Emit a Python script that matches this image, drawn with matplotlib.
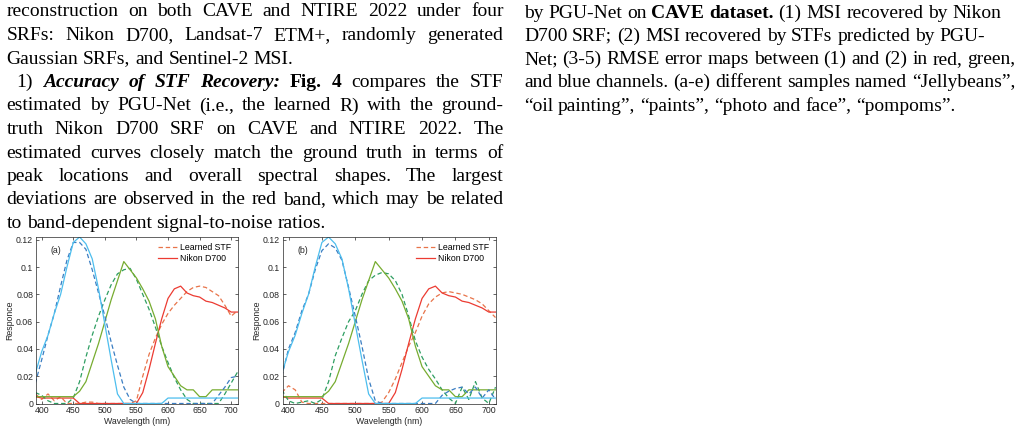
import numpy as np
import matplotlib.pyplot as plt
from matplotlib.ticker import FuncFormatter

# 波長 (nm)
wl = list(range(390, 711, 10))

# Nikon D700 SRF (正解)
nikon_r = [0.005, 0.004, 0.004, 0.004, 0.004, 0.004, 0.004,
           0, 0, 0, 0, 0, 0, 0, 0, 0, 0,
           0.008, 0.025, 0.044, 0.062, 0.077, 0.084, 0.086, 0.081, 0.079,
           0.078, 0.075, 0.074, 0.072, 0.070, 0.067, 0.067]
nikon_g = [0.005, 0.005, 0.005, 0.005, 0.005, 0.005, 0.005,
           0.009, 0.016, 0.030, 0.044, 0.060, 0.076, 0.090, 0.104, 0.098,
           0.092, 0.084, 0.075, 0.062, 0.042, 0.027, 0.020, 0.013, 0.010,
           0.010, 0.005, 0.005, 0.010, 0.010, 0.010, 0.010, 0.010]
nikon_b = [0.022, 0.038, 0.050, 0.066, 0.080, 0.100, 0.118, 0.122, 0.117,
           0.106, 0.084, 0.058, 0.032, 0.007,
           0, 0, 0, 0, 0, 0, 0,
           0.004, 0.004, 0.004, 0.004, 0.004, 0.004, 0.004, 0.004, 0.004,
           0.004, 0.004, 0.004]

# 学習したSTF (a) CAVE
stf_a_r = [0.007, 0.003, 0.007, 0.002, 0.005, 0, 0, 0, 0.001, 0.001,
           0, 0, 0, 0, 0, 0,
           0.002, 0.020, 0.036, 0.048, 0.058, 0.066, 0.072, 0.077, 0.082,
           0.085, 0.086, 0.085, 0.082, 0.079, 0.072, 0.064, 0.068]
stf_a_g = [0.008, 0.006, 0.002, 0, 0, 0, 0.004,
           0.016, 0.034, 0.050, 0.064, 0.076, 0.087, 0.095, 0.098, 0.099,
           0.091, 0.080, 0.069, 0.056, 0.042, 0.030, 0.019, 0.010, 0.003,
           0, 0, 0, 0, 0, 0.007, 0.015, 0.023]
stf_a_b = [0.015, 0.032, 0.050, 0.066, 0.086, 0.105, 0.118, 0.118, 0.113,
           0.098, 0.081, 0.064, 0.045, 0.028, 0.012, 0.003,
           0, 0, 0, 0, 0, 0, 0, 0, 0, 0, 0, 0, 0,
           0.006, 0.012, 0.019, 0.020]

# 学習したSTF (b) NTIRE 2022
stf_b_r = [0.008, 0.013, 0.010, 0.001, 0,
           0, 0, 0, 0, 0, 0, 0, 0, 0, 0,
           0.001, 0.008, 0.018, 0.030, 0.042, 0.052, 0.064, 0.073, 0.078,
           0.081, 0.082, 0.081, 0.080, 0.078, 0.076, 0.073, 0.068, 0.063]
stf_b_g = [0.010, 0.002, 0, 0.001, 0.002, 0, 0.003,
           0.016, 0.035, 0.048, 0.060, 0.068, 0.080, 0.090, 0.094, 0.096,
           0.095, 0.090, 0.080, 0.064, 0.046, 0.034, 0.025, 0.018, 0.010,
           0.004, 0, 0.012, 0.003, 0.016, 0.004, 0, 0.012]
stf_b_b = [0.020, 0.040, 0.052, 0.068, 0.080, 0.098, 0.112, 0.117, 0.114,
           0.105, 0.085, 0.064, 0.042, 0.018, 0.002,
           0, 0, 0, 0, 0, 0, 0, 0, 0,
           0.006, 0.009, 0.011, 0.012, 0.007, 0.012, 0.004, 0.010, 0.003]

# 本文テキスト ("|*" = 太字斜体, "|#" = 太字)
left_lines = [
    "reconstruction on both CAVE and NTIRE 2022 under four",
    "SRFs: Nikon D700, Landsat-7 ETM+, randomly generated",
    "Gaussian SRFs, and Sentinel-2 MSI.",
    "1) |*Accuracy |*of |*STF |*Recovery: |#Fig. |#4 compares the STF",
    "estimated by PGU-Net (i.e., the learned R) with the ground-",
    "truth Nikon D700 SRF on CAVE and NTIRE 2022. The",
    "estimated curves closely match the ground truth in terms of",
    "peak locations and overall spectral shapes. The largest",
    "deviations are observed in the red band, which may be related",
    "to band-dependent signal-to-noise ratios.",
]
left_justify = [True, True, False, True, True, True, True, True, True, False]
right_lines = [
    "by PGU-Net on |#CAVE |#dataset. (1) MSI recovered by Nikon",
    "D700 SRF; (2) MSI recovered by STFs predicted by PGU-",
    "Net; (3-5) RMSE error maps between (1) and (2) in red, green,",
    "and blue channels. (a-e) different samples named “Jellybeans”,",
    "“oil painting”, “paints”, “photo and face”, “pompoms”.",
]

W, H = 1021, 437
fig = plt.figure(figsize=(W / 100, H / 100), dpi=100)
renderer = fig.canvas.get_renderer()


def parse(line):
    words = []
    for w in line.split(" "):
        if w.startswith("|*"):
            words.append((w[2:], "bold", "italic"))
        elif w.startswith("|#"):
            words.append((w[2:], "bold", "normal"))
        else:
            words.append((w, "normal", "normal"))
    return words


def put_line(line, x0, x1, y, justify):
    words = parse(line)
    ts = []
    widths = []
    for w, wt, st in words:
        t = fig.text(0, 0, w, fontsize=14, family="Liberation Serif",
                     fontweight=wt, style=st, va="baseline", ha="left")
        ts.append(t)
        widths.append(t.get_window_extent(renderer).width)
    if justify and len(ts) > 1:
        gap = (x1 - x0 - sum(widths)) / (len(ts) - 1)
    else:
        gap = 14 * 100 / 72 * 0.25
    x = x0
    for t, w in zip(ts, widths):
        t.set_position((x / W, 1 - y / H))
        x += w + gap


# 左カラム
for i, line in enumerate(left_lines):
    x0 = 16.5 if i == 3 else 6.5
    put_line(line, x0, 503.5, 16.5 + 23.5 * i, left_justify[i])

# 右カラム
for i, line in enumerate(right_lines):
    put_line(line, 524, 1012, 17.5 + 23.3 * i, False)

# グラフ
plt.rcParams['font.family'] = ['Liberation Sans', 'DejaVu Sans']
plt.rcParams['lines.scale_dashes'] = False
c_r, c_g, c_b = '#ec3b32', '#77ac30', '#4dbeee'
d_r, d_g, d_b = '#e8744a', '#2e9e62', '#3a7dc2'

boxes = [(36, 201.5), (282.5, 213)]
panels = [("(a)", stf_a_r, stf_a_g, stf_a_b), ("(b)", stf_b_r, stf_b_g, stf_b_b)]
for (left, width), (tag, sr, sg, sb) in zip(boxes, panels):
    ax = fig.add_axes([left / W, 1 - 403.5 / H, width / W, 166.5 / H])
    ax.plot(wl, sr, color=d_r, linewidth=0.9, dashes=(3.2, 2), label='Learned STF')
    ax.plot(wl, nikon_r, color=c_r, linewidth=0.9, label='Nikon D700')
    ax.plot(wl, sg, color=d_g, linewidth=0.9, dashes=(3.2, 2))
    ax.plot(wl, nikon_g, color=c_g, linewidth=0.9)
    ax.plot(wl, sb, color=d_b, linewidth=0.9, dashes=(3.2, 2))
    ax.plot(wl, nikon_b, color=c_b, linewidth=0.9)
    ax.set_xlim(391, 710)
    ax.set_ylim(0, 0.122)
    ax.set_xticks([400, 450, 500, 550, 600, 650, 700])
    ax.set_yticks([0, 0.02, 0.04, 0.06, 0.08, 0.1, 0.12])
    ax.yaxis.set_major_formatter(FuncFormatter(lambda v, p: '%g' % round(v, 2)))
    ax.tick_params(direction='in', length=2.5, width=0.5, top=True, right=True,
                   labelsize=6.3, pad=2, colors='#262626')
    for s in ax.spines.values():
        s.set_linewidth(0.5)
        s.set_color('#262626')
    ax.set_xlabel('Wavelength (nm)', fontsize=6.3, labelpad=1, color='#262626')
    ax.set_ylabel('Responce', fontsize=6.3, labelpad=1, color='#262626')
    ax.text(0.07, 0.92, tag, transform=ax.transAxes, fontsize=6.3, color='#262626',
            va='center')
    ax.legend(loc='upper right', frameon=False, fontsize=6.3, handlelength=2.2,
              borderaxespad=0.3, labelspacing=0.25, handletextpad=0.4)

fig.savefig('out.png', dpi=100)
